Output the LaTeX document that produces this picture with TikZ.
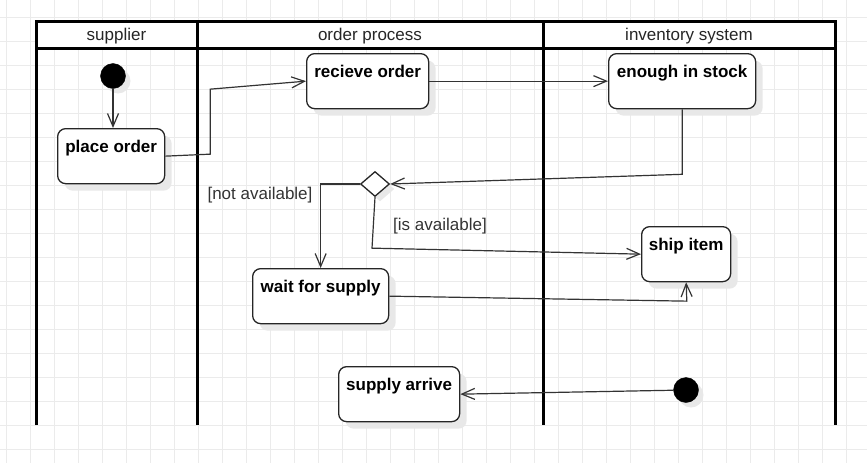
\documentclass[tikz,border=0pt]{standalone}
\usepackage{fontspec}
\setmainfont{Liberation Sans}
\usetikzlibrary{arrows.meta,shapes.geometric,shadows}
\tikzset{
    grid-line/.style = {draw=black!8, line width=1pt},
    lane-line/.style = {draw=black, line width=3pt},
    lane-title/.style = {text=black!85, font=\fontsize{17}{20}\selectfont},
    action-box/.style = {draw=black!85, fill=white, line width=1.3pt, rectangle, rounded corners=8pt, anchor=north west, inner sep=4pt, text height=19.5pt, text depth=27.5pt, font=\fontsize{17}{20}\selectfont\bfseries, drop shadow={fill=black!9, opacity=1, shadow xshift=7pt, shadow yshift=-7pt}},
    start-dot/.style = {circle, draw=black, fill=black, minimum size=25pt, inner sep=0pt, drop shadow={fill=black!9, opacity=1, shadow xshift=5pt, shadow yshift=-5pt}},
    decision/.style = {diamond, draw=black!85, fill=white, line width=1.3pt, minimum width=29pt, minimum height=25pt, inner sep=0pt, drop shadow={fill=black!9, opacity=1, shadow xshift=5pt, shadow yshift=-5pt}},
    guard-text/.style = {text=black!80, font=\fontsize{17}{20}\selectfont},
    flow-arrow/.style = {draw=black!80, line width=1.2pt, -{Straight Barb[length=13pt, width=11pt, line width=1.2pt]}},
}

\begin{document}
\begin{tikzpicture}[x=1pt, y=-1pt]
\useasboundingbox (0,0) rectangle (867,463);
% background grid
\foreach \gx in {6.7,30.7,...,870} \draw[grid-line] (\gx,0) -- (\gx,463);
\foreach \gy in {17.7,41.7,...,463} \draw[grid-line] (0,\gy) -- (867,\gy);

% swimlanes
\fill[white] (36,21) rectangle (835,48);
\draw[lane-line] (36,425) -- (36,21) -- (835,21) -- (835,425);
\draw[lane-line] (36,48) -- (835,48);
\draw[lane-line] (197,21) -- (197,425);
\draw[lane-line] (543,21) -- (543,425);
\node[lane-title] (lane-supplier) at (116.5,36) {supplier};
\node[lane-title] (lane-order) at (370,36) {order process};
\node[lane-title] (lane-inventory) at (689,36) {inventory system};

% activities
\node[start-dot] (start) at (113,76) {};
\node[action-box, minimum width=107pt] (place) at (57,128) {place order};
\node[action-box, minimum width=122pt] (receive) at (306,53) {recieve order};
\node[action-box, minimum width=147pt] (stock) at (608,53) {enough in stock};
\node[decision] (check) at (375,184) {};
\node[action-box, minimum width=136pt] (wait) at (252,268) {wait for supply};
\node[action-box, minimum width=89pt] (ship) at (641,226) {ship item};
\node[action-box, minimum width=121pt] (arrive) at (338,366) {supply arrive};
\node[start-dot] (supply) at (686,390) {};

% guards
\node[guard-text] (not-available) at (260,195) {[not available]};
\node[guard-text] (is-available) at (440,226) {[is available]};

% flows
\draw[flow-arrow] (start) -- (start |- place.north);
\draw[flow-arrow] (place.east) -- ++(45,-2) -- ++(0,-65) -- (receive.west);
\draw[flow-arrow] (receive.east) -- (stock.west);
\draw[flow-arrow] (stock.south) -- ++(0,65) -- (check.east);
\draw[flow-arrow] (check.west) -| (wait.north);
\draw[flow-arrow] (check.south) -- ++(-3,51) -- (ship.west);
\draw[flow-arrow] (wait.east) -- ++(297.5,5) -- (ship.south);
\draw[flow-arrow] (supply) -- (arrive.east);
\end{tikzpicture}
\end{document}
